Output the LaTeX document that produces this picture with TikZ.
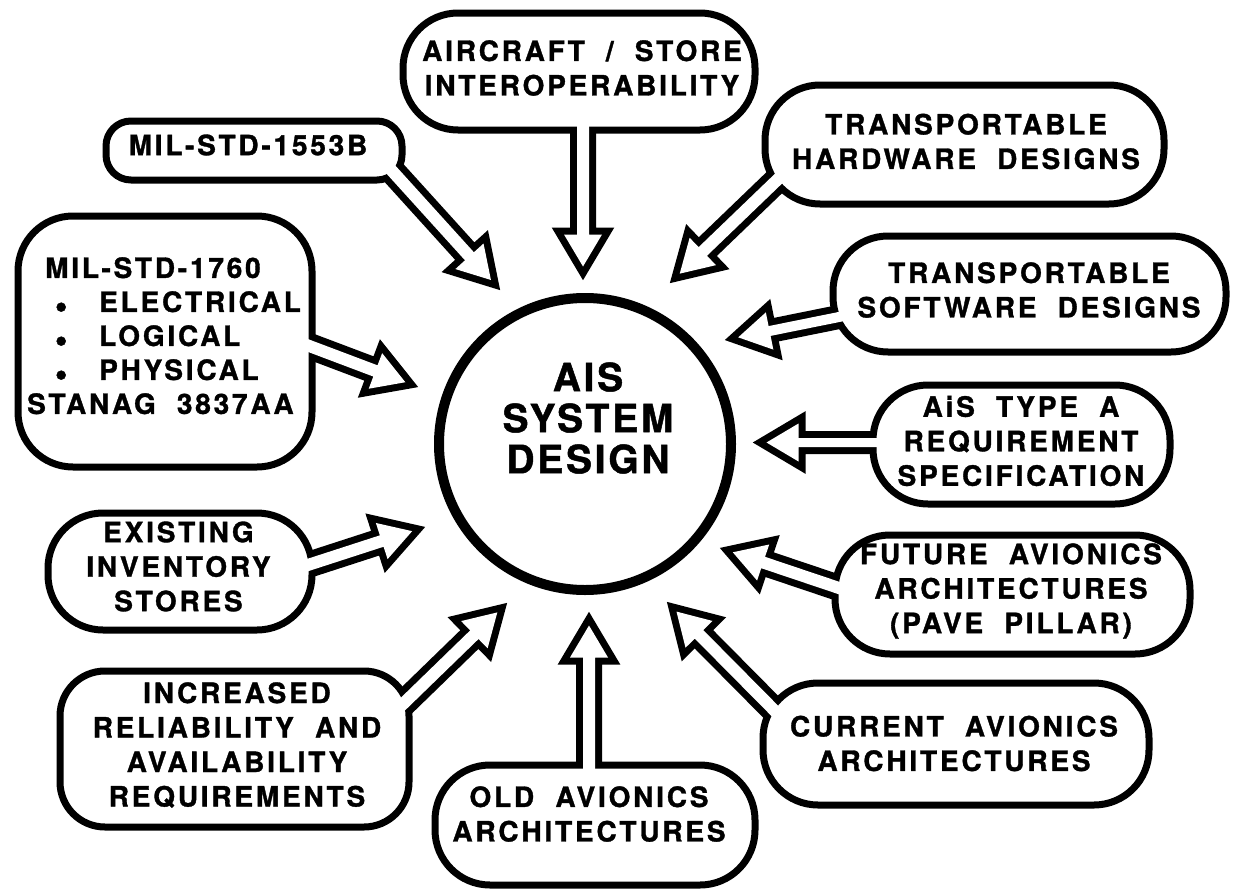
\documentclass[tikz,border=0pt]{standalone}
\usepackage{fontspec}
\usetikzlibrary{calc}
\newfontfamily\lblfont[LetterSpace=10,WordSpace=2,FakeBold=1.2]{texgyreheros-bold.otf}
\newfontfamily\corefont[LetterSpace=7,WordSpace=2,FakeBold=1.2]{texgyreheros-bold.otf}
\newcommand\itemdot{\makebox[0pt]{\smash{\raisebox{-6pt}{\fontsize{36pt}{36pt}\selectfont •}}}}

% Hollow block arrow from a tail point (inside a box) to a visible tip point.
% #1 path style, #2 tail, #3 tip, #4 half-width of the shaft
\newcommand\blockarrow[4]{%
  \path ($(#2)!-10pt!(#3)$) coordinate (ba-a)
        ($(#3)!13.5pt!(#2)$) coordinate (ba-v);
  \path ($(ba-v)!32pt!(ba-a)$) coordinate (ba-h);
  \path[#1] ($(ba-a)!#4!90:(ba-v)$) -- ($(ba-h)!#4!-90:(ba-a)$)
    -- ($(ba-h)!19pt!-90:(ba-a)$) -- (ba-v) -- ($(ba-h)!19pt!90:(ba-a)$)
    -- ($(ba-h)!#4!90:(ba-a)$) -- ($(ba-a)!#4!-90:(ba-v)$) -- cycle;
}
\newcommand\allarrows[1]{%
  \blockarrow{#1}{t-air}{p-air}{6pt}
  \blockarrow{#1}{t-1553}{p-1553}{6pt}
  \blockarrow{#1}{t-hw}{p-hw}{6pt}
  \blockarrow{#1}{t-1760}{p-1760}{6pt}
  \blockarrow{#1}{t-sw}{p-sw}{5pt}
  \blockarrow{#1}{t-ais}{p-ais}{4.5pt}
  \blockarrow{#1}{t-fut}{p-fut}{6pt}
  \blockarrow{#1}{t-cur}{p-cur}{6pt}
  \blockarrow{#1}{t-old}{p-old}{6pt}
  \blockarrow{#1}{t-inc}{p-inc}{6pt}
  \blockarrow{#1}{t-ex}{p-ex}{6pt}
}

\tikzset{
  boxshape/.style={draw, line width=7pt, fill=white, inner sep=0pt, rounded corners=#1},
  boxshape/.default=55pt,
  lbl/.style={inner sep=0pt, align=center, font={\lblfont\fontsize{28pt}{34.5pt}\selectfont}},
  arrowline/.style={draw, line width=14pt, line join=miter},
  arrowfill/.style={fill=white},
}

\begin{document}
\begin{tikzpicture}[x=1pt, y=-1pt]
\useasboundingbox (0,0) rectangle (1237,894);

% central circle
\node[draw, circle, line width=10pt, minimum size=292pt, inner sep=0pt] (core) at (585,444) {};
\node[inner sep=0pt, align=center, font={\corefont\fontsize{39pt}{41pt}\selectfont}] (core-tx) at (588,418) {AIS\\SYSTEM\\DESIGN};

% arrow end points: tails sit on the box borders, tips point at the circle
\coordinate (t-air)  at (583,130);  \coordinate (p-air)  at (583,280);
\coordinate (t-1553) at (394,173);  \coordinate (p-1553) at (500,290);
\coordinate (t-hw)   at (775,182);  \coordinate (p-hw)   at (670,283);
\coordinate (t-1760) at (312,347);  \coordinate (p-1760) at (418,387);
\coordinate (t-sw)   at (834,318);  \coordinate (p-sw)   at (725,340);
\coordinate (t-ais)  at (873,442.5);\coordinate (p-ais)  at (753,442.5);
\coordinate (t-fut)  at (833,586);  \coordinate (p-fut)  at (720,548);
\coordinate (t-cur)  at (770,706);  \coordinate (p-cur)  at (667,602);
\coordinate (t-old)  at (589,765);  \coordinate (p-old)  at (589,612);
\coordinate (t-inc)  at (403,704);  \coordinate (p-inc)  at (507,603);
\coordinate (t-ex)   at (314,563);  \coordinate (p-ex)   at (425,527);

% 1) arrow outlines
\allarrows{arrowline}

% 2) boxes
\node[boxshape, minimum width=352pt, minimum height=117pt] (bx-air)  at (579,71.5) {};
\node[boxshape=25pt, minimum width=296pt, minimum height=59pt] (bx-1553) at (254,150.5) {};
\node[boxshape, minimum width=399pt, minimum height=119pt] (bx-hw)   at (964.5,144.5) {};
\node[boxshape, minimum width=393pt, minimum height=116pt] (bx-sw)   at (1029.5,294) {};
\node[boxshape, minimum width=294pt, minimum height=251pt] (bx-1760) at (165,341.5) {};
\node[boxshape, minimum width=297pt, minimum height=119pt] (bx-ais)  at (1021.5,444.5) {};
\node[boxshape, minimum width=355pt, minimum height=119pt] (bx-fut)  at (1012.5,594.5) {};
\node[boxshape, minimum width=264pt, minimum height=117pt] (bx-ex)   at (180,571.5) {};
\node[boxshape=45pt, minimum width=349pt, minimum height=156pt] (bx-inc) at (234.5,749) {};
\node[boxshape, minimum width=320pt, minimum height=120pt] (bx-old)  at (595,825) {};
\node[boxshape, minimum width=386pt, minimum height=122pt] (bx-cur)  at (956,744) {};

% 3) open the arrow shafts through the box borders
\allarrows{arrowfill}

% 4) box texts
\node[lbl] (tx-air)  at (582,68)     {AIRCRAFT / STORE\\INTEROPERABILITY};
\node[lbl] (tx-1553) at (248,145)    {MIL-STD-1553B};
\node[lbl] (tx-hw)   at (966,141.5)  {TRANSPORTABLE\\HARDWARE DESIGNS};
\node[lbl] (tx-sw)   at (1029,290)   {TRANSPORTABLE\\SOFTWARE DESIGNS};
\node[lbl, align=left, anchor=north west, font={\lblfont\fontsize{28pt}{34pt}\selectfont}] (tx-1760) at (27,257)
  {\hspace*{18pt}MIL-STD-1760\\
   \hspace*{34pt}\itemdot\hspace*{38pt}ELECTRICAL\\
   \hspace*{34pt}\itemdot\hspace*{38pt}LOGICAL\\
   \hspace*{34pt}\itemdot\hspace*{38pt}PHYSICAL\\
   STANAG 3837AA};
\node[lbl] (tx-ais)  at (1021,441)   {AiS TYPE A\\REQUIREMENT\\SPECIFICATION};
\node[lbl] (tx-fut)  at (1011,591)   {FUTURE AVIONICS\\ARCHITECTURES\\(PAVE PILLAR)};
\node[lbl] (tx-ex)   at (178.5,566.5){EXISTING\\INVENTORY\\STORES};
\node[lbl] (tx-inc)  at (237,745)    {INCREASED\\RELIABILITY AND\\AVAILABILITY\\REQUIREMENTS};
\node[lbl] (tx-old)  at (589,814)    {OLD AVIONICS\\ARCHITECTURES};
\node[lbl] (tx-cur)  at (954,743.5)  {CURRENT AVIONICS\\ARCHITECTURES};
\end{tikzpicture}
\end{document}
